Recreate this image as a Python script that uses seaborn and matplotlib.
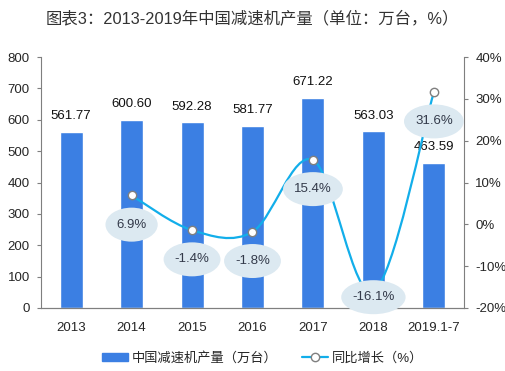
import numpy as np
import pandas as pd
import seaborn as sns
import matplotlib.pyplot as plt
from matplotlib.path import Path
from matplotlib.patches import PathPatch, Patch
from matplotlib.lines import Line2D
from matplotlib.ticker import FixedLocator
from matplotlib.transforms import Affine2D

# data
years = ['2013', '2014', '2015', '2016', '2017', '2018', '2019.1-7']
output = [561.77, 600.60, 592.28, 581.77, 671.22, 563.03, 463.59]
growth = [None, 6.9, -1.4, -1.8, 15.4, -16.1, 31.6]
growth_labels = ['', '6.9%', '-1.4%', '-1.8%', '15.4%', '-16.1%', '31.6%']

bar_color = '#3b7fe3'
line_color = '#12aeea'
bubble_color = '#dce9f1'
grey = '#7f7f7f'

sns.set_style('white')
plt.rcParams['font.family'] = ['Liberation Sans', 'Noto Sans CJK SC', 'DejaVu Sans']

df = pd.DataFrame({'year': years, 'output': output})


def bubble(x0, y0, width, height, mutation_size):
    # ellipse around the label text, padded in pixels
    rx = width / 2 + 11
    ry = height / 2 + 11
    tr = Affine2D().scale(rx, ry).translate(x0 + width / 2, y0 + height / 2)
    return Path.unit_circle().transformed(tr)


fig = plt.figure(figsize=(5.05, 3.71), dpi=100)
ax = fig.add_axes([0.081, 0.170, 0.838, 0.676])

sns.barplot(data=df, x='year', y='output', color=bar_color, width=0.38,
            saturation=1, ax=ax)
ax.set_xlim(-0.5, 6.5)
ax.set_ylim(0, 800)
ax.set_yticks(range(0, 801, 100))
ax.set_xlabel('')
ax.set_ylabel('')

for i, v in enumerate(output):
    ax.text(i, v + 30, f'{v:.2f}', ha='center', va='bottom', fontsize=9.5, color='#111111')

# right axis: growth line
ax2 = ax.twinx()
ax2.set_ylim(-20, 40)
ax2.set_yticks(range(-20, 41, 10))
ax2.set_yticklabels([f'{t}%' for t in range(-20, 41, 10)])

xs = [i for i, g in enumerate(growth) if g is not None]
ys = [g for g in growth if g is not None]

# smoothed line (bezier through the data points)
pts = list(zip(xs, ys))
verts = [pts[0]]
codes = [Path.MOVETO]
n = len(pts)
for k in range(n - 1):
    p0 = pts[k - 1] if k > 0 else pts[k]
    p1 = pts[k]
    p2 = pts[k + 1]
    p3 = pts[k + 2] if k + 2 < n else pts[k + 1]
    c1 = (p1[0] + (p2[0] - p0[0]) / 6, p1[1] + (p2[1] - p0[1]) / 6)
    c2 = (p2[0] - (p3[0] - p1[0]) / 6, p2[1] - (p3[1] - p1[1]) / 6)
    verts += [c1, c2, p2]
    codes += [Path.CURVE4] * 3
ax2.add_patch(PathPatch(Path(verts, codes), fc='none', ec=line_color, lw=1.6, zorder=3))
ax2.plot(xs, ys, ls='none', marker='o', ms=6, mfc='white', mec=grey, mew=1.0, zorder=4)

for x, y, lab in zip(xs, ys, growth_labels[1:]):
    off = -4 if y < -10 else -21
    ax2.annotate(lab, (x, y), xytext=(0, off), textcoords='offset points',
                 ha='center', va='center', fontsize=9.5, color='#333a4a', zorder=5,
                 bbox=dict(boxstyle=bubble, fc=bubble_color, ec='none'))

for a in (ax, ax2):
    for s in a.spines.values():
        s.set_color(grey)
        s.set_linewidth(0.8)
    a.spines['top'].set_visible(False)
ax.spines['right'].set_visible(False)
ax2.spines['left'].set_visible(False)

ax.tick_params(axis='y', length=3, color=grey, labelsize=9.5, pad=5)
ax2.tick_params(axis='y', length=3, color=grey, labelsize=9.5, pad=5)
ax.tick_params(axis='x', which='major', length=0, labelsize=9.5, pad=10)
ax.xaxis.set_minor_locator(FixedLocator(np.arange(-0.5, 7, 1)))
ax.tick_params(axis='x', which='minor', length=4, color=grey)

fig.text(0.5, 0.952, '图表3：2013-2019年中国减速机产量（单位：万台，%）',
         ha='center', va='center', fontsize=11.8, color='#333333')

handles = [Patch(color=bar_color),
           Line2D([], [], color=line_color, lw=1.6, marker='o', ms=6,
                  mfc='white', mec=grey)]
fig.legend(handles, ['中国减速机产量（万台）', '同比增长（%）'], loc='center',
           bbox_to_anchor=(0.52, 0.035), ncol=2, frameon=False, fontsize=9.5,
           handlelength=2.0, handleheight=0.6, columnspacing=1.8, handletextpad=0.3)

fig.savefig('out.png', dpi=100)
